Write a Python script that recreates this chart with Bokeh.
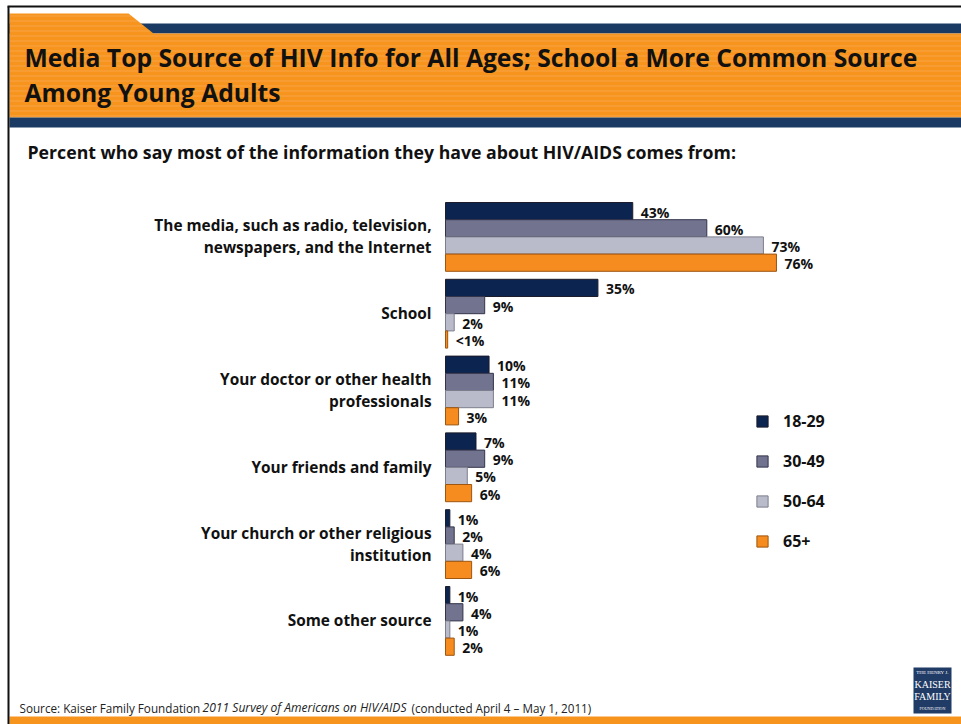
from bokeh.plotting import figure
from bokeh.models import ColumnDataSource, Range1d, Legend, LegendItem
from bokeh.transform import dodge
from bokeh.core.properties import value
from bokeh.embed import file_html
from bokeh.resources import INLINE

# ---------------- data ----------------
categories = [
    "The media, such as radio, television,\nnewspapers, and the Internet",
    "School",
    "Your doctor or other health\nprofessionals",
    "Your friends and family",
    "Your church or other religious\ninstitution",
    "Some other source",
]
series = ["18-29", "30-49", "50-64", "65+"]
v_18_29 = [43, 35, 10, 7, 1, 1]
v_30_49 = [60, 9, 11, 9, 2, 4]
v_50_64 = [73, 2, 11, 5, 4, 1]
v_65plus = [76, 0.5, 3, 6, 6, 2]
lab_18_29 = ["43%", "35%", "10%", "7%", "1%", "1%"]
lab_30_49 = ["60%", "9%", "11%", "9%", "2%", "4%"]
lab_50_64 = ["73%", "2%", "11%", "5%", "4%", "1%"]
lab_65plus = ["76%", "<1%", "3%", "6%", "6%", "2%"]

title_lines = ["Media Top Source of HIV Info for All Ages; School a More Common Source",
               "Among Young Adults"]
subtitle = "Percent who say most of the information they have about HIV/AIDS comes from:"
src_a = "Source: Kaiser Family Foundation"
src_b = "2011 Survey of Americans on HIV/AIDS"
src_c = "(conducted April 4 \u2013 May 1, 2011)"

colors = ["#0b2450", "#72748f", "#b9bbcb", "#f68b1f"]
outlines = ["#1c1c2c", "#33334a", "#7d7e8c", "#9c5610"]

# ---------------- layout ----------------
W, H = 961, 724
FONT = value("Open Sans")
p = figure(width=W, height=H, x_range=Range1d(0, W), y_range=Range1d(H, 0),
           x_axis_type=None, y_axis_type=None, toolbar_location=None,
           output_backend="svg", min_border=0, outline_line_color=None,
           background_fill_color="white", border_fill_color="white")

# bar scales (value in %, group index)
PX_PER_PCT = 4.355
X0 = 445.0
G0, GSTEP = 236.4, 76.8
BAR_H = 17.2 / GSTEP
p.extra_x_ranges = {"val": Range1d(-X0 / PX_PER_PCT, (W - X0) / PX_PER_PCT)}
p.extra_y_ranges = {"grp": Range1d((H - G0) / GSTEP, -G0 / GSTEP)}

# ---------------- header decoration ----------------
ORANGE = "#f7941d"
NAVY = "#1b3a63"
L = 9
p.quad(left=[L], right=[W], top=[23], bottom=[33], fill_color=NAVY, line_color=None)
p.patch(x=[L, 128, 153, W, W, L], y=[13, 13, 33, 33, 117, 117],
        fill_color=ORANGE, line_color=None)
sx0, sx1, sy = [], [], []
for yy in range(15, 117, 5):
    right = W if yy >= 33 else 128 + (yy - 13) * 25 / 20
    sx0.append(L); sx1.append(right); sy.append(yy + 0.5)
p.segment(x0=sx0, x1=sx1, y0=sy, y1=sy, line_color="#fab56a", line_alpha=0.55, line_width=1)
p.quad(left=[L], right=[W], top=[117], bottom=[127], fill_color=NAVY, line_color=None)
# bottom band
p.quad(left=[L], right=[W], top=[716], bottom=[H], fill_color=ORANGE, line_color=None)
# frame
p.segment(x0=[7, 8], x1=[W, 8], y0=[6, 6], y1=[6, H], line_color="#111111", line_width=2)

p.text(x=[24, 24], y=[57, 92], text=title_lines, text_font=FONT, text_font_style="bold",
       text_font_size="24.7px", text_color="#111111", text_baseline="middle")
p.text(x=[27], y=[151], text=[subtitle], text_font=FONT, text_font_style="bold",
       text_font_size="17.7px", text_color="#111111", text_baseline="middle")

# ---------------- bars ----------------
src = ColumnDataSource(dict(
    g=list(range(len(categories))), cat=categories,
    v0=v_18_29, v1=v_30_49, v2=v_50_64, v3=v_65plus,
    l0=lab_18_29, l1=lab_30_49, l2=lab_50_64, l3=lab_65plus))

items = []
for i, s in enumerate(series):
    off = (i - 1.5) * BAR_H
    r = p.hbar(y=dodge("g", off), right=f"v{i}", left=0, height=BAR_H, source=src,
               x_range_name="val", y_range_name="grp",
               fill_color=colors[i], line_color=outlines[i], line_width=1)
    items.append(LegendItem(label=s, renderers=[r]))
    p.text(x=f"v{i}", y=dodge("g", off), text=f"l{i}", source=src,
           x_range_name="val", y_range_name="grp", x_offset=8, y_offset=1,
           text_font=FONT, text_font_style="bold", text_font_size="14px",
           text_color="#111111", text_baseline="middle", text_align="left")

p.text(x=-3.2, y="g", text="cat", source=src, x_range_name="val", y_range_name="grp",
       text_font=FONT, text_font_style="bold", text_font_size="15.4px",
       text_color="#111111", text_baseline="middle", text_align="right",
       text_line_height=1.04)

legend = Legend(items=items, location=(755, 172), orientation="vertical",
                glyph_width=14, glyph_height=14, label_height=22, spacing=18,
                padding=0, margin=0, border_line_alpha=0, background_fill_alpha=0,
                label_text_font="Open Sans", label_text_font_style="bold",
                label_text_font_size="16px", label_text_color="#111111",
                label_standoff=14)
p.add_layout(legend)

# ---------------- footer ----------------
p.text(x=[19], y=[707], text=[src_a], text_font=FONT, text_font_size="11.7px",
       text_color="#222222", text_baseline="middle")
p.text(x=[202], y=[707], text=[src_b], text_font=FONT, text_font_style="italic",
       text_font_size="12.1px", text_color="#222222", text_baseline="middle")
p.text(x=[411], y=[707], text=[src_c], text_font=FONT, text_font_size="11.7px",
       text_color="#222222", text_baseline="middle")

# logo
p.quad(left=[913], right=[951], top=[667], bottom=[713], fill_color="#1f3b66", line_color=None)
p.text(x=[932] * 4, y=[672, 684, 696, 708],
       text=["THE HENRY J.", "KAISER", "FAMILY", "FOUNDATION"],
       text_font=value("Liberation Serif"), text_font_size=["5px", "10px", "10px", "4px"],
       text_color="white", text_align="center", text_baseline="middle")

open("out.html", "w").write(file_html(p, INLINE))
